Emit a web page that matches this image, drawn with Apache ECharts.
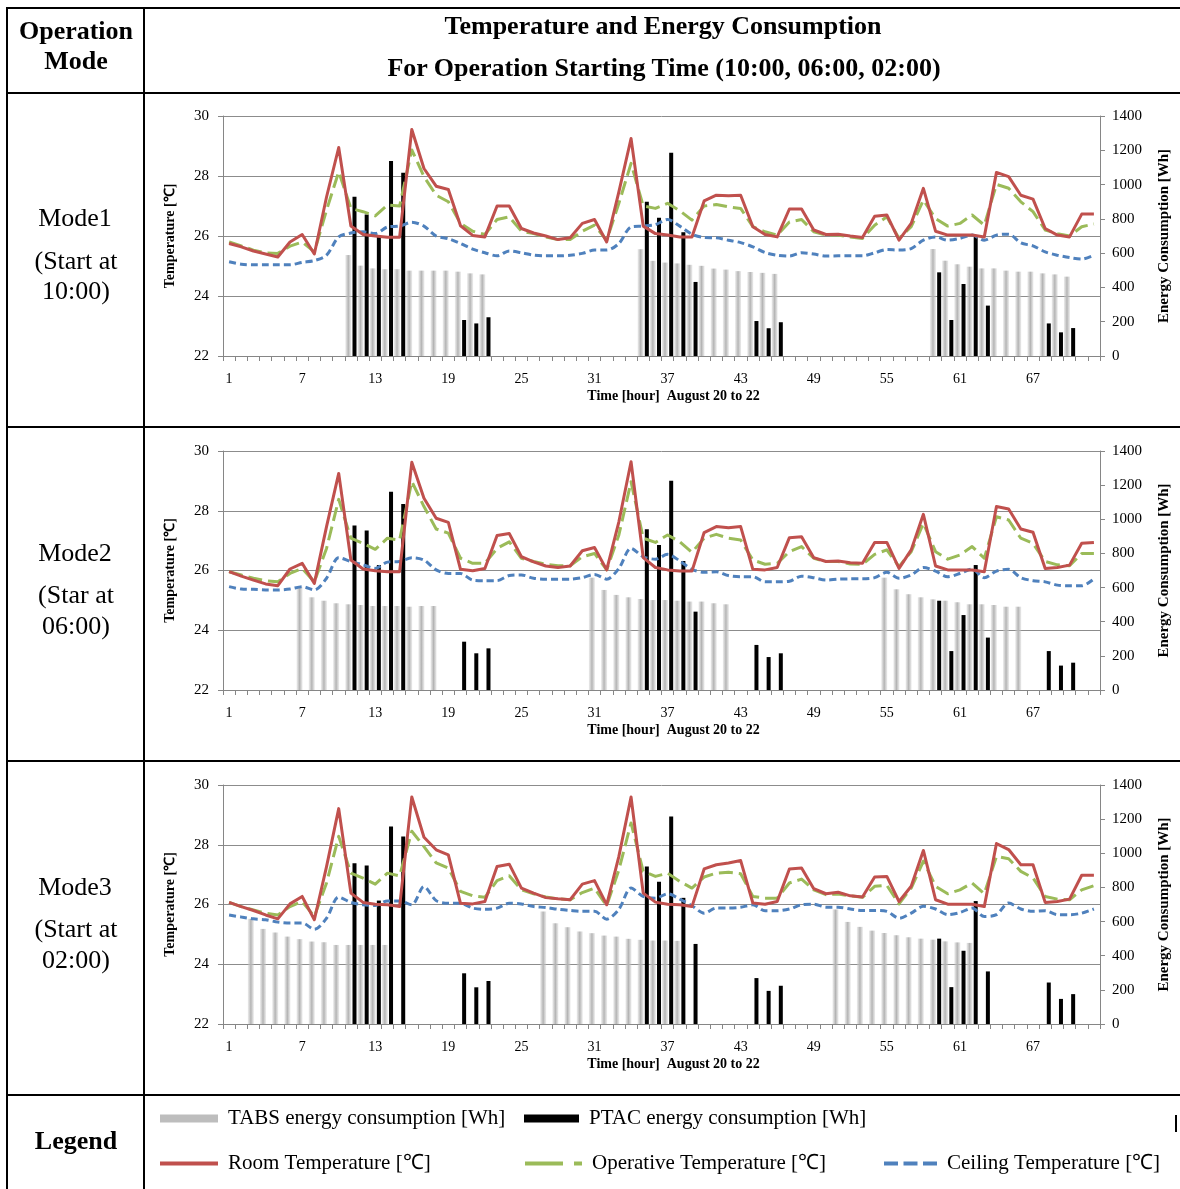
<!DOCTYPE html>
<html><head><meta charset="utf-8">
<script src="https://cdn.jsdelivr.net/npm/echarts@6/dist/echarts.min.js"></script>
<style>
html,body{margin:0;padding:0;background:#fff;}
#wrap{position:relative;width:1180px;height:1189px;overflow:hidden;background:#fff;}
#chart{position:absolute;left:0;top:0;width:1180px;height:1189px;}
.ln{position:absolute;background:#000;}
.t{position:absolute;transform:translate(-50%,-50%);white-space:nowrap;font-family:'Liberation Serif','Times New Roman',serif;color:#000;font-size:26px;line-height:1;}
.b{font-weight:bold;}
</style></head><body>
<div id="wrap">
<div id="chart"></div>
<div class="ln" style="left:6px;top:7px;width:1174px;height:2px"></div>
<div class="ln" style="left:6px;top:92px;width:1174px;height:2px"></div>
<div class="ln" style="left:6px;top:426px;width:1174px;height:2px"></div>
<div class="ln" style="left:6px;top:760px;width:1174px;height:2px"></div>
<div class="ln" style="left:6px;top:1094px;width:1174px;height:2px"></div>
<div class="ln" style="left:6px;top:7px;width:2px;height:1182px"></div>
<div class="ln" style="left:143px;top:7px;width:2px;height:1182px"></div>
<div class="ln" style="left:1175px;top:1115px;width:2px;height:17px"></div>
<div class="t b" style="left:76px;top:31px">Operation</div>
<div class="t b" style="left:76px;top:61px">Mode</div>
<div class="t b" style="left:663px;top:26px">Temperature and Energy Consumption</div>
<div class="t b" style="left:664px;top:68px">For Operation Starting Time (10:00, 06:00, 02:00)</div>
<div class="t" style="left:75px;top:218px">Mode1</div>
<div class="t" style="left:76px;top:261px">(Start at</div>
<div class="t" style="left:76px;top:291px">10:00)</div>
<div class="t" style="left:75px;top:553px">Mode2</div>
<div class="t" style="left:76px;top:595px">(Star at</div>
<div class="t" style="left:76px;top:626px">06:00)</div>
<div class="t" style="left:75px;top:887px">Mode3</div>
<div class="t" style="left:76px;top:929px">(Start at</div>
<div class="t" style="left:76px;top:960px">02:00)</div>
<div class="t b" style="left:76px;top:1141px">Legend</div>
</div>
<script>
const N = null;
const hours = Array.from({length: 72}, (_, i) => String(i + 1));

// Mode1 (start 10:00)
const room1 = [25.75,25.64,25.5,25.4,25.3,25.8,26.05,25.4,27.3,28.95, 26.33,26.05,26.0,25.96,25.96,29.55,28.25,27.66,27.55,26.34, 26.02,25.97,27.0,27.0,26.25,26.1,26.0,25.88,25.94,26.42, 26.55,25.8,27.47,29.25,26.33,26.08,26.03,25.97,25.97,27.17, 27.36,27.34,27.36,26.31,26.05,25.97,26.9,26.9,26.2,26.05, 26.06,26.0,25.95,26.66,26.7,25.86,26.42,27.59,26.16,26.03, 26.03,26.03,25.97,28.12,27.98,27.36,27.23,26.25,26.03,25.97, 26.73,26.73];
const oper1 = [25.8,25.67,25.53,25.44,25.42,25.66,25.8,25.47,26.86,28.14, 26.92,26.81,26.67,27.03,27.0,28.87,27.98,27.36,27.14,26.42, 26.16,26.05,26.55,26.64,26.16,26.08,25.97,25.88,25.88,26.16, 26.36,25.86,27.09,28.42,27.0,26.92,27.09,26.84,26.53,27.0, 27.05,26.97,26.92,26.31,26.14,26.03,26.47,26.55,26.14,26.03, 26.03,25.97,25.92,26.36,26.64,25.92,26.31,27.2,26.58,26.33, 26.42,26.7,26.36,27.72,27.59,27.14,26.81,26.2,26.08,26.0, 26.31,26.4];
const ceil1 = [25.14,25.06,25.04,25.04,25.04,25.04,25.12,25.18,25.36,25.97, 26.1,26.14,26.08,26.3,26.33,26.46,26.33,26.0,25.91,25.75, 25.56,25.44,25.34,25.5,25.44,25.36,25.34,25.34,25.36,25.42, 25.53,25.53,25.75,26.3,26.33,26.38,26.55,26.33,26.06,25.95, 25.94,25.86,25.78,25.64,25.45,25.36,25.33,25.44,25.4,25.33, 25.34,25.34,25.34,25.44,25.55,25.53,25.58,25.86,25.97,25.86, 25.92,26.03,25.86,26.03,26.06,25.77,25.67,25.47,25.36,25.28, 25.23,25.36];
const tabs1 = [N,N,N,N,N,N,N,N,N,N, 589,527,511,506,506,498,498,498,498,492,482,476, N,N,N,N,N,N,N,N,N,N,N,N, 623,555,545,540,532,526,510,504,495,490,485,479, N,N,N,N,N,N,N,N,N,N,N,N, 624,556,535,521,511,511,498,492,492,482,476,463, N,N];
const ptac1 = [N,N,N,N,N,N,N,N,N,N, 929,826,705,1137,1069, N,N,N,N, 210,190,226, N,N,N,N,N,N,N,N,N,N,N,N, 900,806,1186,722,432, N,N,N,N, 204,162,197, N,N,N,N,N,N,N,N,N,N,N,N, 488,210,420,705,294, N,N,N,N, 190,138,163, N,N];

// Mode2 (start 06:00)
const room2 = [25.96,25.81,25.68,25.55,25.49,26.05,26.24,25.57,27.47,29.25, 26.35,26.05,25.99,25.96,25.96,29.62,28.42,27.75,27.61,26.04, 25.99,26.07,27.17,27.24,26.46,26.29,26.15,26.1,26.15,26.66, 26.77,26.02,27.63,29.64,26.43,26.1,26.02,25.98,25.98,27.27, 27.47,27.43,27.47,26.04,26.02,26.1,27.1,27.13,26.43,26.3, 26.32,26.26,26.24,26.94,26.94,26.07,26.69,27.88,26.15,26.02, 26.02,26.02,25.96,28.14,28.06,27.39,27.28,26.07,26.1,26.18, 26.91,26.94];
const oper2 = [25.96,25.85,25.74,25.66,25.62,25.9,26.07,25.62,26.74,28.38, 27.08,26.91,26.71,27.08,27.02,28.98,28.14,27.39,27.25,26.41, 26.24,26.24,26.74,26.96,26.41,26.3,26.21,26.16,26.16,26.46, 26.57,26.02,27.19,28.97,27.08,26.94,27.19,26.96,26.61,27.08, 27.21,27.08,27.02,26.35,26.21,26.24,26.63,26.8,26.41,26.3, 26.3,26.22,26.21,26.54,26.69,26.13,26.63,27.58,26.63,26.38, 26.52,26.8,26.41,27.8,27.69,27.08,26.91,26.3,26.19,26.16, 26.57,26.57];
const ceil2 = [25.46,25.38,25.37,25.35,25.35,25.38,25.46,25.35,25.74,26.43, 26.3,26.19,26.07,26.28,26.3,26.43,26.35,26.02,25.9,25.9, 25.68,25.66,25.66,25.83,25.85,25.74,25.71,25.71,25.71,25.76, 25.87,25.71,26.07,26.74,26.46,26.38,26.54,26.32,26.04,25.94, 25.96,25.83,25.79,25.79,25.62,25.62,25.64,25.81,25.76,25.68, 25.71,25.72,25.72,25.76,25.94,25.74,25.85,26.1,25.98,25.79, 25.9,26.05,25.76,25.98,26.04,25.76,25.66,25.62,25.51,25.49, 25.49,25.72];
const tabs2 = [N,N,N,N,N,N, 605,543,523,508,502,498,492,492,492,488,492,492, N,N,N,N,N,N,N,N,N,N,N,N, 658,586,557,543,533,527,527,523,518,518,508,502, N,N,N,N,N,N,N,N,N,N,N,N, 658,590,561,543,531,523,514,502,502,498,488,488, N,N,N,N,N,N];
const ptac2 = [N,N,N,N,N,N,N,N,N,N, 963,934,732,1162,1090, N,N,N,N, 283,215,244, N,N,N,N,N,N,N,N,N,N,N,N, 941,850,1226,756,459, N,N,N,N, 264,193,215, N,N,N,N,N,N,N,N,N,N,N,N, 523,228,439,732,307, N,N,N,N, 228,143,160, N,N];

// Mode3 (start 02:00)
const room3 = [26.07,25.93,25.8,25.65,25.52,26.02,26.27,25.49,27.27,29.21, 26.38,26.07,26.01,25.99,25.93,29.6,28.25,27.83,27.66,26.04, 26.02,26.1,27.27,27.35,26.55,26.38,26.23,26.19,26.16,26.68, 26.8,25.99,27.61,29.6,26.38,26.08,26.01,25.99,25.93,27.19, 27.33,27.39,27.47,26.05,26.01,26.1,27.19,27.22,26.53,26.36, 26.41,26.29,26.25,26.92,26.94,26.1,26.61,27.81,26.16,26.01, 26.01,26.01,25.93,28.04,27.84,27.33,27.33,26.07,26.1,26.18, 26.98,26.98];
const oper3 = [26.07,25.93,25.82,25.71,25.65,25.93,26.1,25.6,26.72,28.28, 27.05,26.88,26.68,27.05,26.96,28.45,27.94,27.39,27.22,26.44, 26.29,26.24,26.8,26.96,26.49,26.36,26.25,26.19,26.16,26.4, 26.55,25.96,27.16,28.73,27.11,26.94,27.05,26.77,26.55,26.92, 27.05,27.08,27.03,26.27,26.21,26.21,26.72,26.85,26.49,26.33, 26.35,26.29,26.24,26.61,26.64,26.02,26.55,27.45,26.61,26.36, 26.49,26.72,26.36,27.61,27.53,27.11,26.89,26.27,26.18,26.16, 26.49,26.63];
const ceil3 = [25.65,25.58,25.52,25.49,25.41,25.38,25.38,25.17,25.54,26.25, 26.07,25.99,25.97,26.12,26.12,25.99,26.6,26.13,26.04,26.04, 25.88,25.84,25.88,26.04,26.02,25.93,25.9,25.84,25.8,25.77, 25.77,25.51,25.84,26.55,26.27,26.21,26.36,26.18,25.96,25.71, 25.88,25.88,25.91,25.99,25.79,25.79,25.85,25.99,26.01,25.91, 25.91,25.85,25.8,25.8,25.77,25.54,25.71,25.94,25.85,25.66, 25.73,25.88,25.6,25.66,26.05,25.85,25.77,25.79,25.66,25.66, 25.71,25.85];
const tabs3 = [N,N, 616,557,536,512,497,483,479,463,463,463,463,463, N,N,N,N,N,N,N,N,N,N,N,N, 659,590,567,542,532,518,512,499,493,489,489,487, N,N,N,N,N,N,N,N,N,N,N,N, 671,598,569,547,533,520,508,500,494,484,478,475, N,N,N,N,N,N,N,N,N,N];
const ptac3 = [N,N,N,N,N,N,N,N,N,N, 942,929,723,1157,1099, N,N,N,N, 297,215,252, N,N,N,N,N,N,N,N,N,N,N,N, 922,833,1216,739,469, N,N,N,N, 269,194,224, N,N,N,N,N,N,N,N,N,N,N,N, 500,216,429,720,308, N,N,N,N, 243,147,175, N,N];

const tempTicks = {min: 22, max: 30, interval: 2};
const energyTicks = {min: 0, max: 1400, interval: 200};

const NAMES = {
  tabs: 'TABS energy consumption [Wh]',
  ptac: 'PTAC energy consumption [Wh]',
  room: 'Room Temperature [℃]',
  oper: 'Operative Temperature [℃]',
  ceil: 'Ceiling Temperature [℃]'
};

const panels = [
  {room: room1, oper: oper1, ceil: ceil1, tabs: tabs1, ptac: ptac1, top: 116, height: 240},
  {room: room2, oper: oper2, ceil: ceil2, tabs: tabs2, ptac: ptac2, top: 451, height: 239},
  {room: room3, oper: oper3, ceil: ceil3, tabs: tabs3, ptac: ptac3, top: 785, height: 239}
];

const SERIF = "'Liberation Serif','Times New Roman',serif";
const AX = '#868686';

const grid = [], xAxis = [], yAxis = [], series = [];
panels.forEach((p, k) => {
  grid.push({left: 223, right: 80, top: p.top, height: p.height, containLabel: false});
  xAxis.push({
    type: 'category', gridIndex: k, data: hours, boundaryGap: true,
    axisLine: {lineStyle: {color: AX, width: 1}},
    axisTick: {show: true, interval: 0, length: 5, lineStyle: {color: AX}},
    axisLabel: {interval: 5, margin: 16, color: '#000', fontFamily: SERIF, fontSize: 14},
    splitLine: {show: false},
    name: 'Time [hour]  August 20 to 22', nameLocation: 'middle', nameGap: 33,
    nameTextStyle: {fontFamily: SERIF, fontWeight: 'bold', fontSize: 14, color: '#000', padding: [0, 0, 0, 24]}
  });
  yAxis.push({
    type: 'value', gridIndex: k, position: 'left',
    min: tempTicks.min, max: tempTicks.max, interval: tempTicks.interval,
    axisLine: {show: true, lineStyle: {color: AX}},
    axisTick: {show: true, length: 5, lineStyle: {color: AX}},
    axisLabel: {margin: 14, color: '#000', fontFamily: SERIF, fontSize: 15, formatter: v => String(v)},
    splitLine: {show: true, lineStyle: {color: '#8c8c8c', width: 1}},
    name: 'Temperature [℃]', nameLocation: 'middle', nameGap: 46, nameRotate: 90,
    nameTextStyle: {fontFamily: SERIF, fontWeight: 'bold', fontSize: 14, color: '#000'}
  });
  yAxis.push({
    type: 'value', gridIndex: k, position: 'right',
    min: energyTicks.min, max: energyTicks.max, interval: energyTicks.interval,
    axisLine: {show: true, lineStyle: {color: AX}},
    axisTick: {show: true, length: 5, lineStyle: {color: AX}},
    axisLabel: {margin: 12, color: '#000', fontFamily: SERIF, fontSize: 15, formatter: v => String(v)},
    splitLine: {show: false},
    name: 'Energy Consumption [Wh]', nameLocation: 'middle', nameGap: 57, nameRotate: 90,
    nameTextStyle: {fontFamily: SERIF, fontWeight: 'bold', fontSize: 15, color: '#000'}
  });
  series.push({
    name: NAMES.tabs, type: 'bar', xAxisIndex: k, yAxisIndex: 2 * k + 1,
    barWidth: 6, barGap: '20%', data: p.tabs,
    itemStyle: {color: new echarts.graphic.LinearGradient(0, 0, 1, 0, [
      {offset: 0, color: 'rgba(200,200,200,0.35)'},
      {offset: 0.5, color: '#b3b3b3'},
      {offset: 1, color: 'rgba(200,200,200,0.35)'}])}
  });
  series.push({
    name: NAMES.ptac, type: 'bar', xAxisIndex: k, yAxisIndex: 2 * k + 1,
    barWidth: 4, barGap: '20%', data: p.ptac, itemStyle: {color: '#000'}
  });
  series.push({
    name: NAMES.ceil, type: 'line', xAxisIndex: k, yAxisIndex: 2 * k, data: p.ceil,
    symbol: 'none', smooth: 0.3, color: '#4f81bd',
    lineStyle: {color: '#4f81bd', width: 3, type: [7, 4]}
  });
  series.push({
    name: NAMES.oper, type: 'line', xAxisIndex: k, yAxisIndex: 2 * k, data: p.oper,
    symbol: 'none', color: '#9bbb59',
    lineStyle: {color: '#9bbb59', width: 3, type: [14, 6], join: 'round'}
  });
  series.push({
    name: NAMES.room, type: 'line', xAxisIndex: k, yAxisIndex: 2 * k, data: p.room,
    symbol: 'none', color: '#c0504d',
    lineStyle: {color: '#c0504d', width: 3, join: 'round'}
  });
});

const legTxt = {fontFamily: SERIF, fontSize: 21, color: '#000', padding: [0, 0, 0, 5]};
function leg(name, left, top, w, h, icon, color) {
  return {
    data: [{name: name, icon: icon}], left: left, top: top, padding: 0,
    itemWidth: w, itemHeight: h, textStyle: legTxt, selectedMode: false,
    itemStyle: {color: color, borderWidth: 0}, lineStyle: {width: 0}
  };
}
const legend = [
  leg(NAMES.tabs, 160, 1108, 58, 8, 'rect', '#bdbdbd'),
  leg(NAMES.ptac, 524, 1108, 55, 8, 'rect', '#000'),
  leg(NAMES.room, 160, 1153, 58, 4, 'rect', '#c0504d'),
  leg(NAMES.oper, 525, 1153, 57, 4, 'path://M0,0h38v4h-38z M49,0h8v4h-8z', '#9bbb59'),
  leg(NAMES.ceil, 884, 1153, 53, 4, 'path://M0,0h14v4h-14z M19.5,0h14v4h-14z M39,0h14v4h-14z', '#4f81bd')
];

const chart = echarts.init(document.getElementById('chart'), null, {renderer: 'canvas'});
chart.setOption({
  animation: false,
  backgroundColor: 'transparent',
  grid: grid, xAxis: xAxis, yAxis: yAxis, series: series, legend: legend
});
</script>
</body></html>
